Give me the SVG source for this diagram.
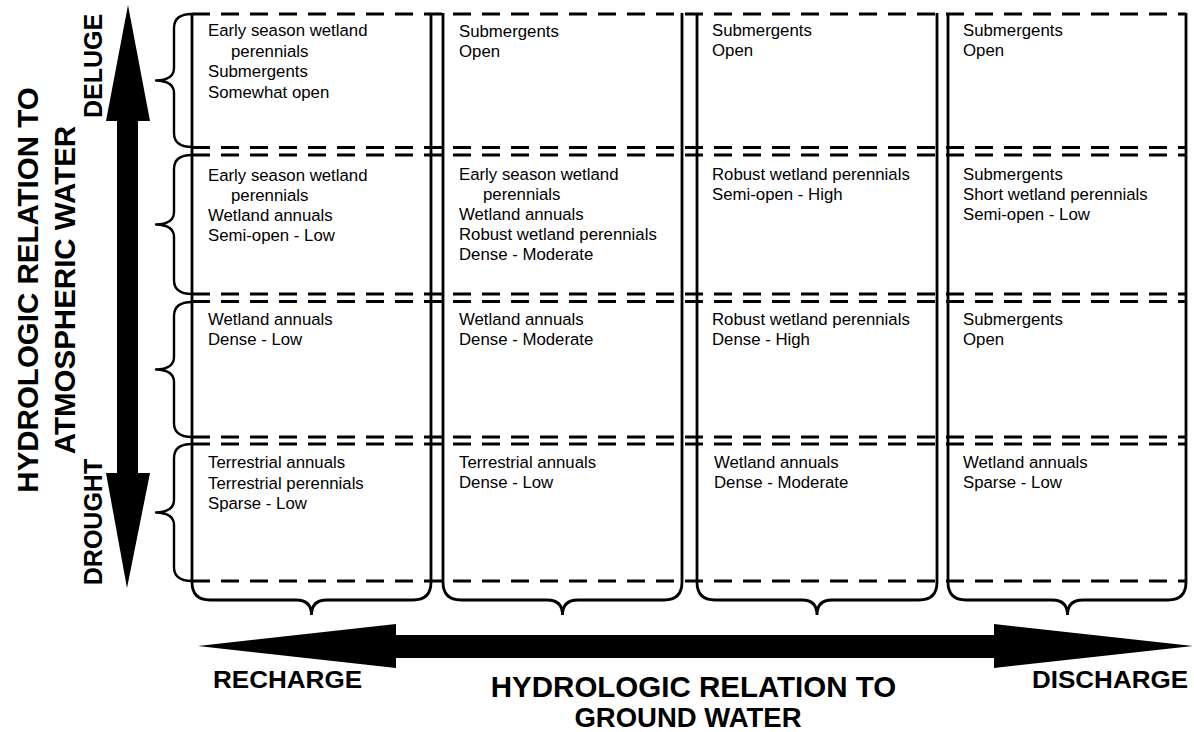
<svg xmlns="http://www.w3.org/2000/svg" width="1194" height="732" viewBox="0 0 1194 732">
<style>
.bg{fill:#ffffff}
.dash{stroke:#000;stroke-width:3;stroke-dasharray:18 11;fill:none}
.solid{stroke:#000;stroke-width:2.8;fill:none}
.brace{stroke:#000;stroke-width:2.4;fill:none;stroke-linejoin:round}
.ax{fill:#000}
.cell{font-family:"Liberation Sans",Arial,Helvetica,sans-serif;font-size:16.8px;fill:#000}
.title{font-family:"Liberation Sans",Arial,Helvetica,sans-serif;font-weight:bold;fill:#000}
</style>
<rect class="bg" x="0" y="0" width="1194" height="732"/>

<g id="rows">
  <g id="row-deluge">
    <path class="brace" d="M192 14 Q174 14 174 28 L174 68 Q174 80 156 80.5 Q174 81 174 93 L174 133 Q174 147 192 147"/>
    <line class="dash" x1="192" y1="14" x2="1186" y2="14"/>
    <line class="dash" x1="192" y1="147.5" x2="1186" y2="147.5"/>
  </g>
  <g id="row-2">
    <path class="brace" d="M192 155 Q174 155 174 169 L174 212 Q174 224 156 224.5 Q174 225 174 237 L174 280 Q174 294 192 294"/>
    <line class="dash" x1="192" y1="155" x2="1186" y2="155"/>
    <line class="dash" x1="192" y1="294" x2="1186" y2="294"/>
  </g>
  <g id="row-3">
    <path class="brace" d="M192 302 Q174 302 174 316 L174 357 Q174 369 156 369.5 Q174 370 174 382 L174 423 Q174 437 192 437"/>
    <line class="dash" x1="192" y1="301.5" x2="1186" y2="301.5"/>
    <line class="dash" x1="192" y1="437" x2="1186" y2="437"/>
  </g>
  <g id="row-drought">
    <path class="brace" d="M192 444 Q174 444 174 458 L174 500 Q174 512 156 512.5 Q174 513 174 525 L174 567 Q174 581 192 581"/>
    <line class="dash" x1="192" y1="444" x2="1186" y2="444"/>
    <line class="dash" x1="192" y1="581" x2="1186" y2="581"/>
  </g>
</g>

<g id="columns">
  <path id="col-1" class="solid" d="M192 13 L192 582 Q192 600 210 600 L296 600 Q311.5 600 311.5 615 Q311.5 600 327 600 L413 600 Q431 600 431 582 L431 13"/>
  <path id="col-2" class="solid" d="M443 13 L443 582 Q443 600 461 600 L547 600 Q562.5 600 562.5 615 Q562.5 600 578 600 L664 600 Q682 600 682 582 L682 13"/>
  <path id="col-3" class="solid" d="M697 13 L697 582 Q697 600 715 600 L802 600 Q817 600 817 615 Q817 600 832 600 L919 600 Q937 600 937 582 L937 13"/>
  <path id="col-4" class="solid" d="M948 13 L948 582 Q948 600 966 600 L1052 600 Q1067.5 600 1067.5 615 Q1067.5 600 1083 600 L1168 600 Q1186 600 1186 582 L1186 13"/>
</g>

<g id="cells">
  <g id="cell-r1c1"><text class="cell" x="208" y="36">Early season wetland</text><text class="cell" x="231" y="56.5">perennials</text><text class="cell" x="208" y="77">Submergents</text><text class="cell" x="208" y="97.5">Somewhat open</text></g>
  <g id="cell-r1c2"><text class="cell" x="459" y="37">Submergents</text><text class="cell" x="459" y="57">Open</text></g>
  <g id="cell-r1c3"><text class="cell" x="712" y="36">Submergents</text><text class="cell" x="712" y="56">Open</text></g>
  <g id="cell-r1c4"><text class="cell" x="963" y="35.5">Submergents</text><text class="cell" x="963" y="55.5">Open</text></g>

  <g id="cell-r2c1"><text class="cell" x="208" y="181">Early season wetland</text><text class="cell" x="231" y="201">perennials</text><text class="cell" x="208" y="221">Wetland annuals</text><text class="cell" x="208" y="241">Semi-open - Low</text></g>
  <g id="cell-r2c2"><text class="cell" x="459" y="180">Early season wetland</text><text class="cell" x="483" y="200">perennials</text><text class="cell" x="459" y="220">Wetland annuals</text><text class="cell" x="459" y="240">Robust wetland perennials</text><text class="cell" x="459" y="260">Dense - Moderate</text></g>
  <g id="cell-r2c3"><text class="cell" x="712" y="180">Robust wetland perennials</text><text class="cell" x="712" y="200">Semi-open - High</text></g>
  <g id="cell-r2c4"><text class="cell" x="963" y="180">Submergents</text><text class="cell" x="963" y="200">Short wetland perennials</text><text class="cell" x="963" y="220">Semi-open - Low</text></g>

  <g id="cell-r3c1"><text class="cell" x="208" y="325">Wetland annuals</text><text class="cell" x="208" y="345">Dense - Low</text></g>
  <g id="cell-r3c2"><text class="cell" x="459" y="325">Wetland annuals</text><text class="cell" x="459" y="345">Dense - Moderate</text></g>
  <g id="cell-r3c3"><text class="cell" x="712" y="325">Robust wetland perennials</text><text class="cell" x="712" y="345">Dense - High</text></g>
  <g id="cell-r3c4"><text class="cell" x="963" y="325">Submergents</text><text class="cell" x="963" y="345">Open</text></g>

  <g id="cell-r4c1"><text class="cell" x="208" y="468">Terrestrial annuals</text><text class="cell" x="208" y="489">Terrestrial perennials</text><text class="cell" x="208" y="509">Sparse - Low</text></g>
  <g id="cell-r4c2"><text class="cell" x="459" y="468">Terrestrial annuals</text><text class="cell" x="459" y="488">Dense - Low</text></g>
  <g id="cell-r4c3"><text class="cell" x="714" y="468">Wetland annuals</text><text class="cell" x="714" y="488">Dense - Moderate</text></g>
  <g id="cell-r4c4"><text class="cell" x="963" y="468">Wetland annuals</text><text class="cell" x="963" y="488">Sparse - Low</text></g>
</g>

<g id="connectors">
  <g id="axis-atmospheric">
    <polygon class="ax" points="128,5 150,121 106,121"/>
    <rect class="ax" x="117" y="120" width="21" height="354"/>
    <polygon class="ax" points="106,473 150,473 127,588"/>
  </g>
  <g id="axis-ground">
    <polygon class="ax" points="198,646 396,624 396,668"/>
    <rect class="ax" x="395" y="635" width="600" height="23"/>
    <polygon class="ax" points="994,624 994,668 1193,646"/>
  </g>
</g>

<g id="labels">
  <text class="title" font-size="29.5" text-anchor="middle" transform="translate(38,290) rotate(-90)">HYDROLOGIC RELATION TO</text>
  <text class="title" font-size="29.5" text-anchor="middle" transform="translate(75,290) rotate(-90)">ATMOSPHERIC WATER</text>
  <text class="title" font-size="25" text-anchor="middle" transform="translate(102,66) rotate(-90)">DELUGE</text>
  <text class="title" font-size="25" text-anchor="middle" transform="translate(102,522) rotate(-90)">DROUGHT</text>
  <text class="title" font-size="23.5" x="213" y="688" textLength="149" lengthAdjust="spacingAndGlyphs">RECHARGE</text>
  <text class="title" font-size="24" x="1032" y="688" textLength="156" lengthAdjust="spacingAndGlyphs">DISCHARGE</text>
  <text class="title" font-size="29.5" text-anchor="middle" x="693.5" y="697">HYDROLOGIC RELATION TO</text>
  <text class="title" font-size="27.5" text-anchor="middle" x="688" y="727">GROUND WATER</text>
</g>
</svg>
